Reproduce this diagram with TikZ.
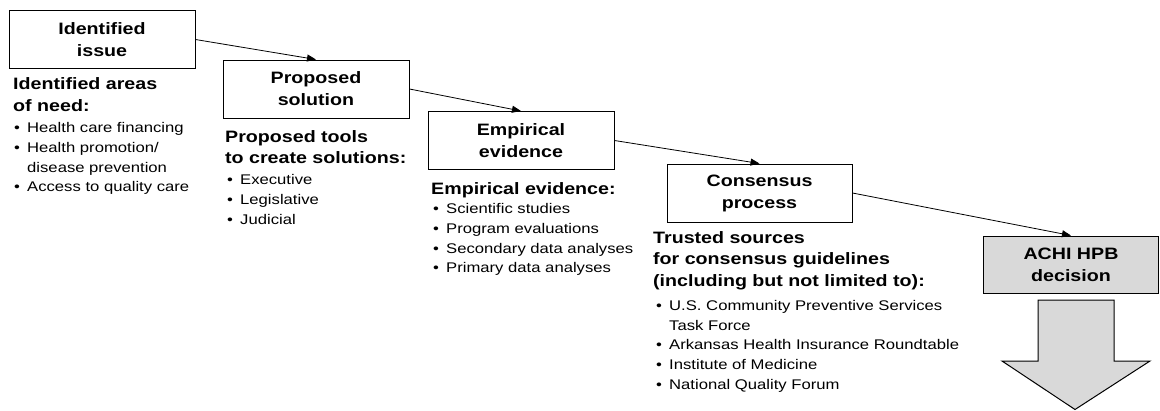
\documentclass[tikz,border=0pt]{standalone}
\usepackage{fontspec}
\setmainfont{Liberation Sans}[FakeStretch=1.19]
\usetikzlibrary{arrows.meta}
\newcommand{\itm}[1]{\makebox[13pt][l]{\textbullet}#1}
\newcommand{\cnt}[1]{\hspace*{13pt}#1}
\begin{document}
\begin{tikzpicture}[x=1pt,y=-1pt,
   every node/.style={font=\fontsize{14}{19.8}\selectfont},
   stagebox/.style={draw,line width=1pt,minimum width=186pt,minimum height=58pt,align=center,
     font=\fontsize{16.5}{22}\selectfont\bfseries},
   head/.style={anchor=north west,inner sep=0pt,align=left,font=\fontsize{16.5}{21.8}\selectfont\bfseries},
   items/.style={anchor=north west,inner sep=0pt,align=left},
   link/.style={line width=0.8pt,-{Triangle[length=9pt,width=7pt]}}]
   \useasboundingbox (0,0) rectangle (1160,410);
   % stages
   \node [stagebox] (issue) at (102,39.5) {Identified\\issue};
   \node [stagebox] (solution) at (316,89) {Proposed\\solution};
   \node [stagebox] (evidence) at (521,140.5) {Empirical\\evidence};
   \node [stagebox,minimum width=185pt] (consensus) at (759.5,193) {Consensus\\process};
   \node [stagebox,fill=black!15,minimum width=175pt,minimum height=57pt] (decision) at (1071,264.5) {ACHI HPB\\decision};
   \draw [link] (issue.east) -- (solution.north);
   \draw [link] (solution.east) -- (evidence.north);
   \draw [link] (evidence.east) -- (consensus.north);
   \draw [link] (consensus.east) -- (decision.north);
   % lists under the stages
   \node [head] (needhead) at (13,77.5) {Identified areas\\of need:};
   \node [items] (needlist) at (14,122.2) {\itm{Health care financing}\\\itm{Health promotion/}\\\cnt{disease prevention}\\\itm{Access to quality care}};
   \node [head] (toolhead) at (225,130) {Proposed tools\\to create solutions:};
   \node [items] (toollist) at (227,174.2) {\itm{Executive}\\\itm{Legislative}\\\itm{Judicial}};
   \node [head] (evidhead) at (431,182.2) {Empirical evidence:};
   \node [items] (evidlist) at (433,203.2) {\itm{Scientific studies}\\\itm{Program evaluations}\\\itm{Secondary data analyses}\\\itm{Primary data analyses}};
   \node [head] (trusthead) at (653,231) {Trusted sources\\for consensus guidelines\\(including but not limited to):};
   \node [items] (trustlist) at (656,300) {\itm{U.S. Community Preventive Services}\\\cnt{Task Force}\\\itm{Arkansas Health Insurance Roundtable}\\\itm{Institute of Medicine}\\\itm{National Quality Forum}};
   % big arrow below the decision
   \draw [line width=1pt,fill=black!15] (1038,300) -- (1114,300) -- (1114,361) -- (1150,361)
     -- (1075,409.5) -- (1002,361) -- (1038,361) -- cycle;
\end{tikzpicture}
\end{document}
